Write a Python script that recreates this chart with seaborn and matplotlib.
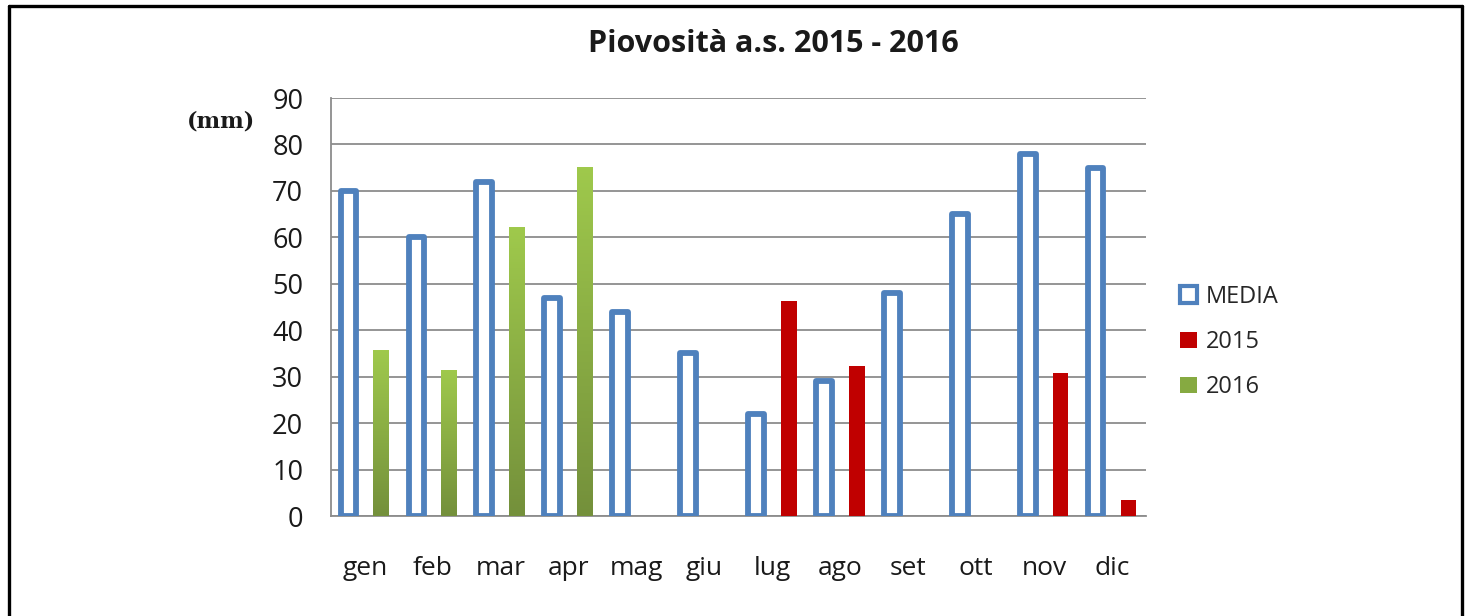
import numpy as np
import pandas as pd
import matplotlib
matplotlib.use("Agg")
import matplotlib.pyplot as plt
from matplotlib.patches import Patch
from matplotlib.lines import Line2D
from matplotlib.colors import LinearSegmentedColormap
import seaborn as sns

mesi = ["gen", "feb", "mar", "apr", "mag", "giu", "lug", "ago", "set", "ott", "nov", "dic"]
media = [70, 60, 72, 47, 44, 35, 22, 29, 48, 65, 78, 75]
p2015 = [np.nan, np.nan, np.nan, np.nan, np.nan, np.nan, 46.4, 32.2, np.nan, np.nan, 30.7, 3.4]
p2016 = [35.7, 31.5, 62.2, 75.2, np.nan, np.nan, np.nan, np.nan, np.nan, np.nan, np.nan, np.nan]
yticks = [0, 10, 20, 30, 40, 50, 60, 70, 80, 90]

BLU = "#4F81BD"
ROSSO = "#C00000"
VERDE = "#8DB349"
verde_grad = LinearSegmentedColormap.from_list("verde", ["#74903B", "#9FC94C"])

# anno: 2015 o 2016 nello stesso slot
anno = [a if not np.isnan(a) else b for a, b in zip(p2015, p2016)]
rows = [(m, "MEDIA", v) for m, v in zip(mesi, media)]
rows += [(m, "anno", v) for m, v in zip(mesi, anno) if not np.isnan(v)]
df = pd.DataFrame(rows, columns=["mese", "serie", "mm"])

sns.set_style("white")
plt.rcParams["font.family"] = ["Open Sans", "DejaVu Sans"]

fig = plt.figure(figsize=(14.69, 6.16), dpi=100)
ax = fig.add_axes([0.2253, 0.1623, 0.5548, 0.6786])

sns.barplot(data=df, x="mese", y="mm", hue="serie", order=mesi,
            hue_order=["MEDIA", "anno"], palette={"MEDIA": "white", "anno": VERDE},
            dodge=True, width=0.966, gap=0.52, errorbar=None, legend=False,
            saturation=1, ax=ax)

ax.set_ylim(0, 90)
ax.set_xlim(-0.5, 11.5)

for p in list(ax.patches):
    xc = p.get_x() + p.get_width() / 2
    i = int(round(xc))
    h = p.get_height()
    if xc < i:
        p.set_facecolor("white")
        p.set_edgecolor(BLU)
        p.set_linewidth(4.2)
        p.set_joinstyle("round")
        p.set_zorder(3)
    elif not np.isnan(p2015[i]):
        p.set_facecolor(ROSSO)
        p.set_edgecolor("none")
        p.set_zorder(3)
    else:
        p.set_facecolor(VERDE)
        p.set_edgecolor("none")
        p.set_zorder(3)
        x0 = p.get_x()
        grad = np.linspace(1, 0, 100).reshape(-1, 1)
        im = ax.imshow(grad, cmap=verde_grad, aspect="auto",
                       extent=(x0, x0 + p.get_width(), 0, h), zorder=4, origin="upper")
        im.set_clip_path(p)

ax.set_ylim(0, 90)
ax.set_xlim(-0.5, 11.5)
ax.set_yticks(yticks)
ax.yaxis.grid(True, color="#8C8C8C", linewidth=1.3)
ax.set_axisbelow(True)
for s in ["top", "right"]:
    ax.spines[s].set_visible(False)
for s in ["left", "bottom"]:
    ax.spines[s].set_color("#8C8C8C")
    ax.spines[s].set_linewidth(1.3)
ax.tick_params(axis="x", length=0, pad=29, labelsize=19, colors="#1a1a1a")
ax.tick_params(axis="y", length=0, pad=20, labelsize=19.5, colors="#1a1a1a")
ax.set_xlabel("")
ax.set_ylabel("")

fig.text(0.5262, 0.929, "Piovosità a.s. 2015 - 2016", ha="center", va="center",
         fontsize=22, fontweight="bold", color="#1a1a1a")
fig.text(0.1505, 0.803, "(mm)", ha="center", va="center", fontsize=16,
         fontweight="bold", family="DejaVu Serif", color="#1a1a1a")

handles = [Patch(facecolor="white", edgecolor=BLU, linewidth=3, label="MEDIA"),
           Patch(facecolor=ROSSO, edgecolor="none", label="2015"),
           Patch(facecolor="#86AA41", edgecolor="none", label="2016")]
fig.legend(handles=handles, loc="upper left", bbox_to_anchor=(0.797, 0.553),
           frameon=False, fontsize=17, handlelength=0.7, handleheight=0.7,
           handletextpad=0.4, labelspacing=0.9, borderaxespad=0)

# cornice del documento
for xs, ys in [((0.0058, 0.9952), (0.990, 0.990)),
               ((0.0058, 0.0058), (0.990, 0.0)),
               ((0.9952, 0.9952), (0.990, 0.0))]:
    fig.add_artist(Line2D(xs, ys, color="black", linewidth=2.4, transform=fig.transFigure))

fig.savefig("out.png", dpi=100)
